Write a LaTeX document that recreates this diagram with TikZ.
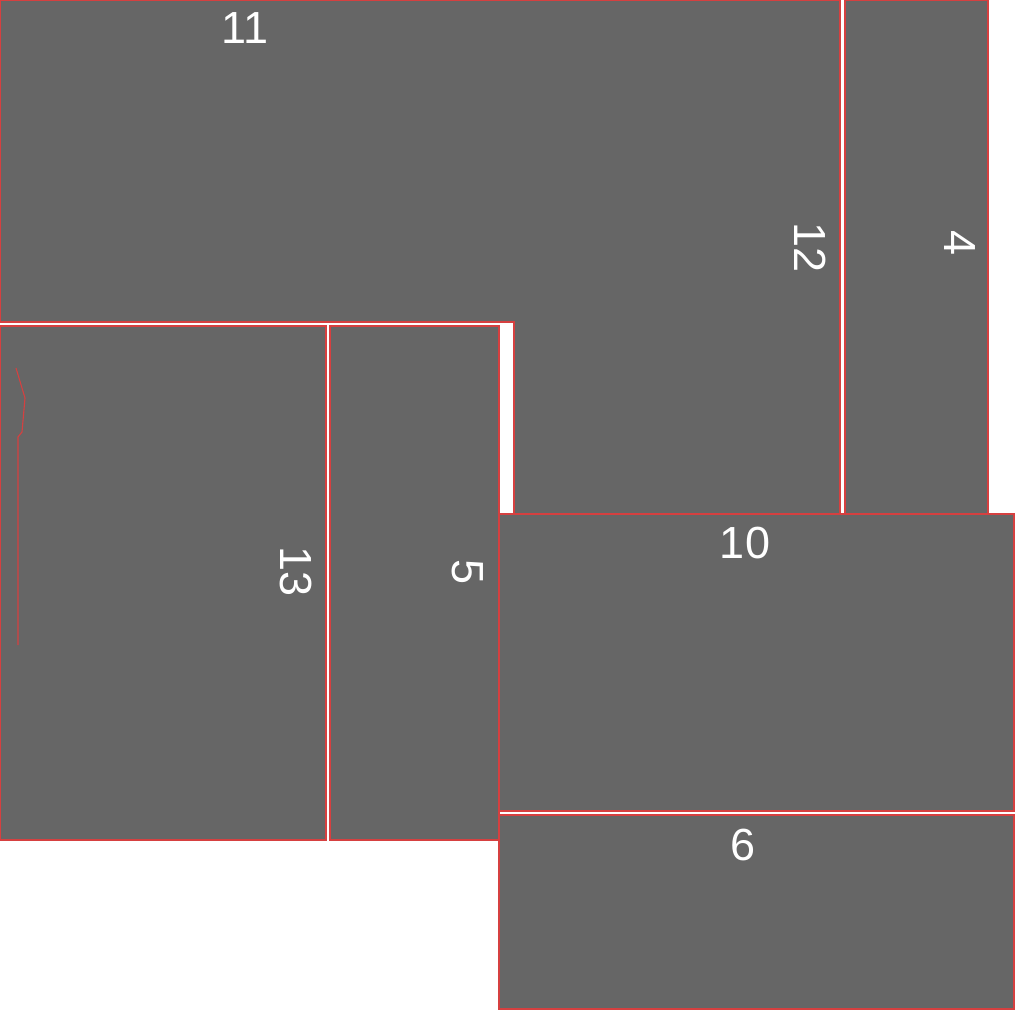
\documentclass[tikz,border=0pt]{standalone}
\usepackage{fontspec}
\setmainfont{Liberation Sans}
\definecolor{tilegray}{RGB}{102,102,102}
\definecolor{edgered}{RGB}{214,64,64}
\tikzset{
  tile/.style={fill=tilegray,draw=edgered,line width=1.8pt},
  tag/.style={text=white,inner sep=0pt,font=\fontsize{45}{50}\selectfont},
  sidetag/.style={tag,rotate=-90}
}
\begin{document}
\begin{tikzpicture}[x=1pt,y=-1pt]
  \useasboundingbox (0,0) rectangle (1014,1014);
  % upper block
  \draw[tile] (0,0)--(840,0)--(840,514)--(514,514)--(514,322)--(0,322)--cycle;
  \draw[tile] (845,0) rectangle (988,514);
  % left pair
  \draw[tile] (0,326) rectangle (326,840);
  \draw[tile] (330,326) rectangle (499,840);
  % right pair
  \draw[tile] (499,514) rectangle (1014,811);
  \draw[tile] (499,815) rectangle (1014,1009);
  % stray mark
  \draw[edgered,line width=1.1pt] (16,368)--(25,398)--(22,432)--(18,437)--(18,645);

  \node[tag] (t11) at (245,28) {11};
  \node[sidetag] (t12) at (810,248) {12};
  \node[sidetag] (t4) at (960,243) {4};
  \node[sidetag] (t13) at (296,572) {13};
  \node[sidetag] (t5) at (468,572) {5};
  \node[tag] (t10) at (745,543) {10};
  \node[tag] (t6) at (743,845) {6};
\end{tikzpicture}
\end{document}
